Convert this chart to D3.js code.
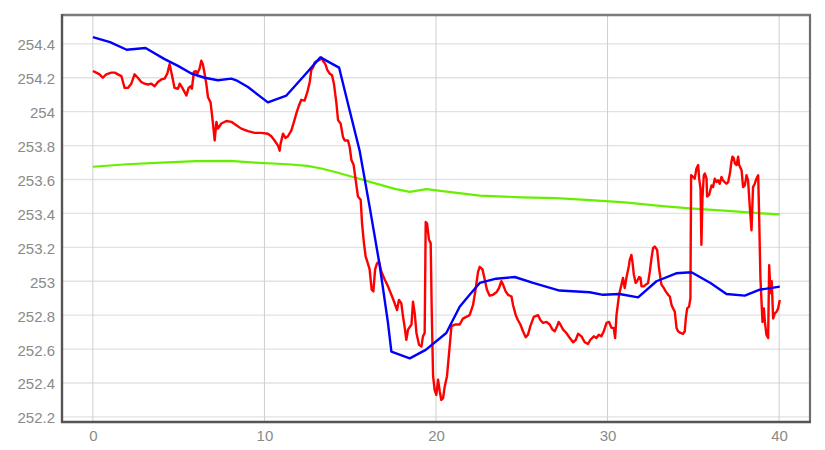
<!DOCTYPE html>
<html><head><meta charset="utf-8">
<script src="https://cdn.jsdelivr.net/npm/d3@7"></script>
<style>
html,body{margin:0;padding:0;background:#fff;}
svg{display:block;}
.tick text{font-family:"Liberation Sans",Arial,sans-serif;font-size:15px;fill:#8a8a8a;}
</style></head>
<body>
<svg id="chart" width="825" height="450"></svg>
<script>
const xTicks = [0, 10, 20, 30, 40];
const yTicks = [252.2, 252.4, 252.6, 252.8, 253, 253.2, 253.4, 253.6, 253.8, 254, 254.2, 254.4];
const yTickLabels = ["252.2","252.4","252.6","252.8","253","253.2","253.4","253.6","253.8","254","254.2","254.4"];

const redX = [0,0.2,0.39,0.58,0.78,1.07,1.27,1.46,1.66,1.85,2.04,2.24,2.43,2.62,2.82,3.01,3.21,3.41,3.6,3.79,3.99,4.18,4.34,4.47,4.61,4.76,4.96,5.06,5.19,5.35,5.45,5.58,5.70,5.77,5.89,5.99,6.09,6.22,6.32,6.41,6.51,6.61,6.71,6.86,7.0,7.10,7.20,7.29,7.49,7.78,8.07,8.36,8.65,9.04,9.43,
9.82,10.2,10.40,10.59,10.79,10.89,10.94,11.08,11.22,11.37,11.57,11.72,11.86,11.99,12.15,12.34,12.5,12.64,12.73,12.83,12.93,13.08,13.22,13.32,13.41,13.55,13.67,13.80,13.94,14.05,14.19,14.29,14.44,14.58,14.68,14.87,14.97,15.07,15.2,15.32,15.45,15.61,15.69,15.80,15.9,16.0,16.13,16.25,16.35,16.45,16.56,16.68,16.82,17.01,17.2,17.4,17.59,17.73,17.84,17.98,18.08,18.18,18.27,18.37,18.57,18.66,18.76,18.86,19.01,19.15,19.24,19.34,19.40,19.48,19.59,19.69,19.75,19.83,19.92,20.02,20.12,20.22,20.31,20.41,20.51,20.64,20.76,20.9,21.15,21.38,21.57,21.77,21.96,
22.16,22.32,22.45,22.55,22.71,22.84,22.97,23.13,23.32,23.52,23.67,23.81,23.91,24.06,24.2,24.40,24.49,24.65,24.78,24.92,25.07,25.23,25.36,25.50,25.70,25.95,26.09,26.24,26.44,26.63,26.79,26.92,27.06,27.15,27.25,27.41,27.6,27.8,27.99,28.15,28.28,28.48,28.67,28.86,29.0,29.2,29.35,29.49,29.64,29.78,29.94,30.09,30.23,30.36,30.44,30.52,30.67,30.81,30.90,31.0,31.1,31.25,31.29,
31.39,31.45,31.53,31.64,31.72,31.84,31.92,31.98,32.11,32.23,32.36,32.46,32.56,32.65,32.75,32.89,33.0,33.14,33.28,33.39,33.53,33.63,33.73,33.82,33.92,34.02,34.11,34.25,34.40,34.5,34.56,34.64,34.75,34.83,34.87,34.99,35.08,35.18,35.28,35.34,35.42,35.47,35.53,35.61,35.67,35.77,35.80,35.92,36.06,36.15,36.25,36.35,36.44,36.54,36.64,36.73,36.83,36.93,37.03,37.13,37.22,37.28,37.36,37.42,37.52,37.61,37.67,37.81,37.90,38.0,38.10,38.19,38.29,38.39,38.48,38.58,38.68,38.78,38.83,38.91,39.03,39.11,39.17,39.26,39.36,39.42,39.5,39.57,39.65,39.75,39.85,39.94,40.04];
const redY = [254.24,254.23,254.22,254.20,254.22,254.23,254.23,254.22,254.21,254.14,254.14,254.165,254.22,254.20,254.175,254.165,254.16,254.165,254.15,254.175,254.19,254.195,254.225,254.28,254.215,254.14,254.135,254.165,254.145,254.115,254.095,254.14,254.15,254.135,254.235,254.24,254.225,254.255,254.30,254.28,254.225,254.165,254.085,254.055,253.93,253.83,253.94,253.90,253.93,253.945,253.94,253.92,253.90,253.885,253.875,
253.875,253.87,253.855,253.83,253.80,253.77,253.81,253.87,253.845,253.855,253.89,253.94,253.99,254.03,254.07,254.065,254.115,254.175,254.245,254.26,254.29,254.30,254.305,254.32,254.30,254.28,254.245,254.225,254.215,254.165,254.055,253.95,253.93,253.85,253.83,253.83,253.79,253.715,253.685,253.595,253.50,253.48,253.34,253.225,253.145,253.115,253.07,252.95,252.94,253.07,253.105,253.115,253.055,253.01,252.97,252.92,252.87,252.83,252.89,252.87,252.79,252.725,252.655,252.715,252.745,252.88,252.81,252.695,252.625,252.615,252.675,252.695,253.35,253.34,253.245,253.225,252.83,252.44,252.36,252.33,252.42,252.35,252.30,252.31,252.38,252.44,252.575,252.735,252.745,252.745,252.78,252.79,252.80,
252.86,252.96,253.055,253.085,253.07,253.01,252.95,252.915,252.92,252.935,252.96,253.00,252.98,252.94,252.92,252.91,252.86,252.80,252.77,252.745,252.705,252.67,252.685,252.735,252.79,252.80,252.77,252.755,252.76,252.745,252.715,252.705,252.735,252.76,252.745,252.715,252.695,252.665,252.64,252.655,252.69,252.675,252.64,252.63,252.655,252.675,252.665,252.685,252.675,252.705,252.755,252.76,252.725,252.725,252.665,252.80,252.92,252.98,253.02,252.96,253.02,253.095,253.125,
253.155,253.115,253.04,252.99,253.00,253.025,253.02,252.97,252.97,252.98,252.99,253.055,253.135,253.195,253.205,253.185,253.075,252.98,252.96,252.94,252.92,252.91,252.86,252.84,252.82,252.725,252.705,252.695,252.69,252.705,252.78,252.84,252.85,252.90,253.625,253.615,253.605,253.665,253.685,253.605,253.545,253.215,253.49,253.625,253.635,253.605,253.50,253.51,253.565,253.555,253.605,253.585,253.595,253.575,253.615,253.595,253.585,253.575,253.585,253.635,253.705,253.735,253.725,253.695,253.685,253.735,253.685,253.655,253.555,253.565,253.625,253.595,253.44,253.30,253.555,253.575,253.605,253.625,253.41,253.02,252.76,252.84,252.76,252.685,252.665,253.095,252.93,253.00,252.78,252.81,252.82,252.84,252.89];

const blueX = [0,1.0,1.97,3.07,4.18,4.96,5.74,6.51,7.29,8.07,8.36,9.04,10.2,11.28,12.3,13.26,14.35,14.96,15.55,16.13,16.7,17.2,17.4,18.47,19.4,20.6,21.38,21.96,22.55,23.5,24.59,25.66,27.2,28.96,29.74,30.7,31.78,32.85,34.0,34.89,36.0,36.93,38.0,38.87,40.04];
const blueY = [254.44,254.41,254.365,254.375,254.31,254.27,254.225,254.20,254.185,254.195,254.185,254.145,254.055,254.095,254.21,254.32,254.26,254.01,253.77,253.44,253.105,252.755,252.585,252.545,252.595,252.695,252.85,252.92,252.99,253.015,253.025,252.99,252.945,252.935,252.92,252.925,252.905,253.0,253.047,253.053,252.99,252.925,252.915,252.95,252.968];

const greenX = [0,2,4,6,8,9.43,11.37,12.5,13.32,14.29,15.26,16.72,17.6,18.47,19.44,20.5,22.55,25,27,29,31,33.05,34.79,37,39,40.04];
const greenY = [253.675,253.69,253.70,253.708,253.71,253.70,253.69,253.68,253.665,253.64,253.612,253.57,253.545,253.527,253.543,253.53,253.505,253.495,253.49,253.478,253.465,253.445,253.43,253.415,253.40,253.394];

const svg = d3.select("#chart");
const L = 62, R = 810, T = 15, B = 422;
const x = d3.scaleLinear().domain([-1.8, 41.8]).range([L, R]);
const y = d3.scaleLinear().domain([252.17, 254.57]).range([B, T]);

// gridlines
svg.append("g").selectAll("line").data(yTicks).join("line")
  .attr("x1", L).attr("x2", R)
  .attr("y1", d => y(d)).attr("y2", d => y(d))
  .attr("stroke", "#e2e2e2").attr("stroke-width", 1.3);
svg.append("g").selectAll("line").data(xTicks).join("line")
  .attr("y1", T).attr("y2", B)
  .attr("x1", d => x(d)).attr("x2", d => x(d))
  .attr("stroke", "#cfcfcf").attr("stroke-width", 1);

// axes labels
const yAxis = d3.axisLeft(y).tickValues(yTicks).tickSize(0).tickPadding(7)
  .tickFormat((d, i) => yTickLabels[i]);
const gy = svg.append("g").attr("transform", `translate(${L},0)`).call(yAxis);
gy.select(".domain").remove();
gy.selectAll("text").attr("dy", "0.4em");

const xAxis = d3.axisBottom(x).tickValues(xTicks).tickSize(0).tickPadding(8)
  .tickFormat(d3.format("d"));
const gx = svg.append("g").attr("transform", `translate(0,${B})`).call(xAxis);
gx.select(".domain").remove();

// lines
const mk = (xs, ys) => xs.map((v, i) => [v, ys[i]]);
const line = d3.line().x(d => x(d[0])).y(d => y(d[1]));
const plot = svg.append("g");
plot.append("path").datum(mk(greenX, greenY)).attr("d", line)
  .attr("fill", "none").attr("stroke", "#66f000").attr("stroke-width", 2.2).attr("stroke-linejoin", "round");
plot.append("path").datum(mk(redX, redY)).attr("d", line)
  .attr("fill", "none").attr("stroke", "#ff0000").attr("stroke-width", 2.4).attr("stroke-linejoin", "round");
plot.append("path").datum(mk(blueX, blueY)).attr("d", line)
  .attr("fill", "none").attr("stroke", "#0000ff").attr("stroke-width", 2.4).attr("stroke-linejoin", "round");

// frame
svg.append("line").attr("x1", L).attr("x2", R + 1).attr("y1", T).attr("y2", T)
  .attr("stroke", "#7a7a7a").attr("stroke-width", 2.6);
svg.append("line").attr("x1", R).attr("x2", R).attr("y1", T).attr("y2", B)
  .attr("stroke", "#6e6e6e").attr("stroke-width", 2.2);
svg.append("line").attr("x1", L).attr("x2", L).attr("y1", T - 1).attr("y2", B + 1)
  .attr("stroke", "#555", ).attr("stroke-width", 2.4);
svg.append("line").attr("x1", L - 1).attr("x2", R + 1).attr("y1", B).attr("y2", B)
  .attr("stroke", "#555").attr("stroke-width", 2.4);
</script>
</body></html>
